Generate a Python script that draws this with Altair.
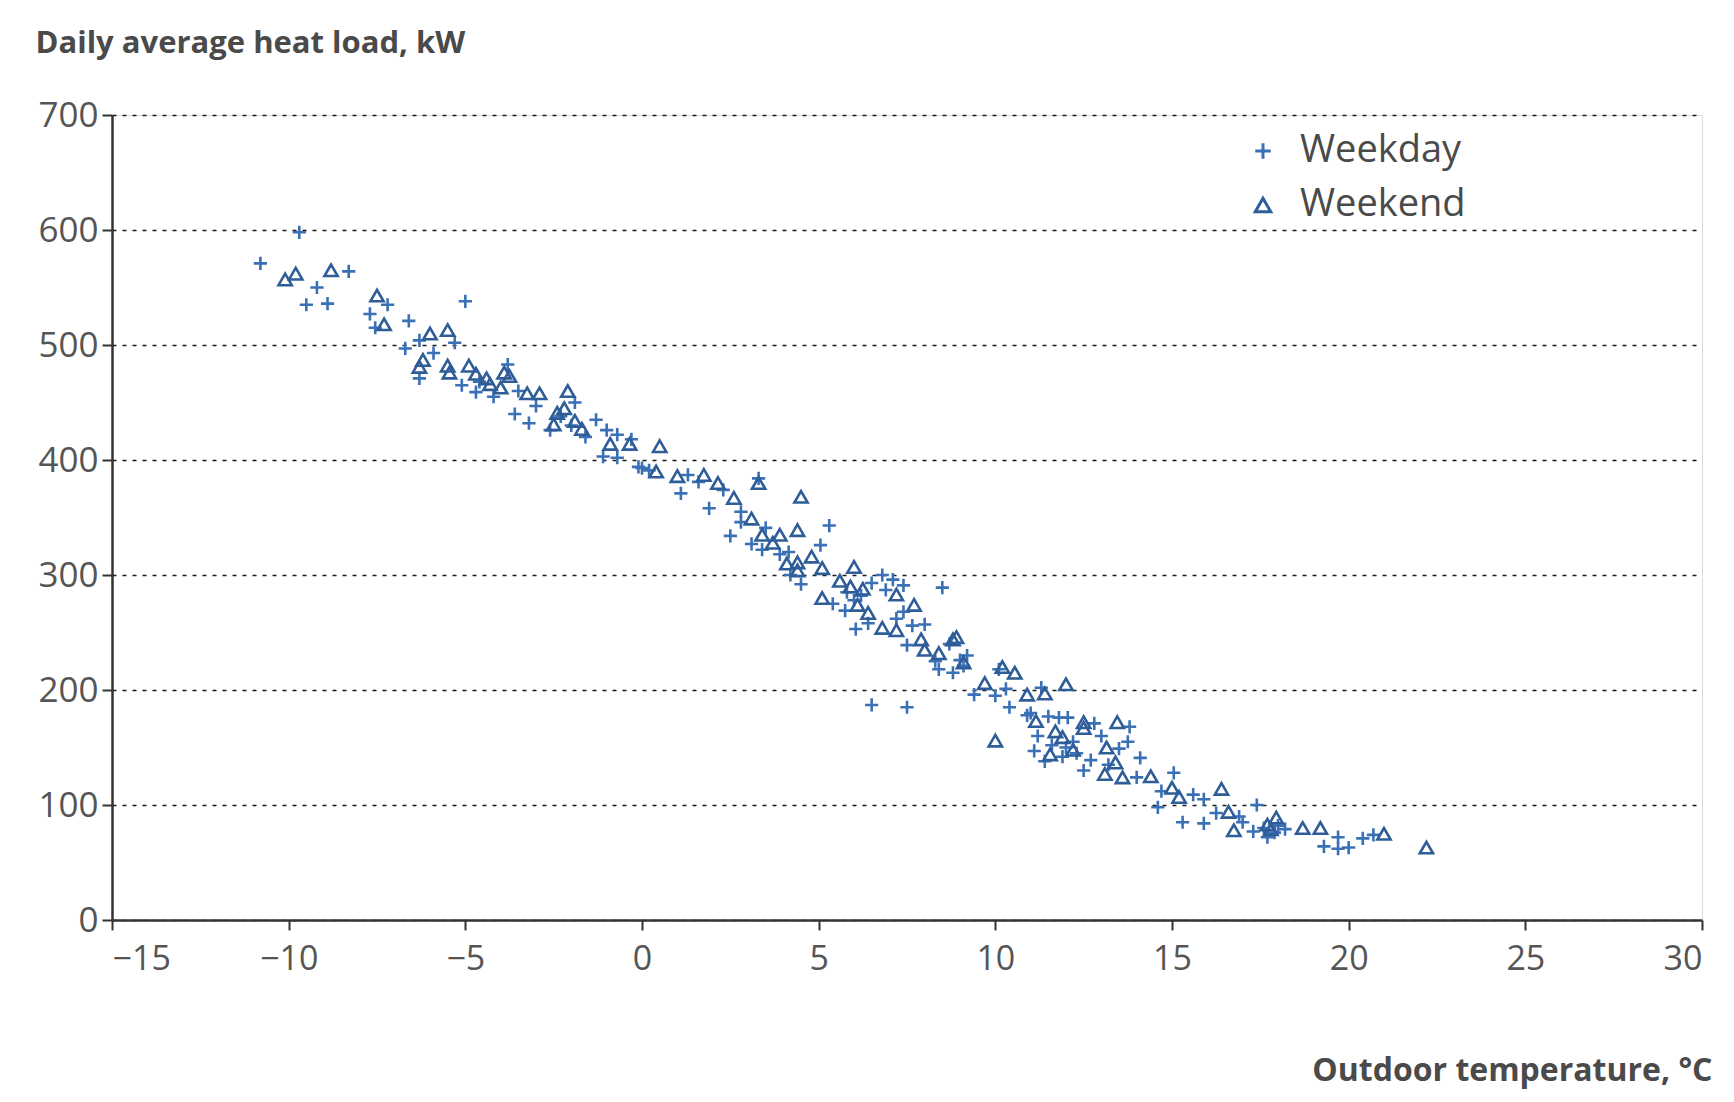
import altair as alt
import pandas as pd

# Weekday (+) observations: outdoor temperature (°C), daily average heat load (kW)
weekday_temp = [-9.7, -10.8, -9.2, -9.5, -8.9, -8.3, -5.0, -7.2, -7.7, -7.55, -6.6, -6.7, -6.3, -5.3,
                -5.9, -6.3, -5.1, -4.7, -4.2, -3.8, -3.5, -1.9, -3.6, -3.2, -2.6, -1.3, -1.0, -0.7,
                -1.1, -0.7, -0.1, -0.3,
                0.0, 0.2, 1.3, 1.1, 1.6, 2.3, 1.9, 2.8, 2.8, 2.5, 3.3, 3.1, 3.4, 3.5, 5.3, 4.15, 5.05, 4.5,
                5.4, 5.75, 6.5, 6.8, 7.1, 7.4, 6.9, 8.5, 7.4, 6.4, 6.05, 7.2, 7.65, 8.0, 7.5, 8.3, 8.4,
                8.8, 9.1, 8.7, 6.5, 7.5, 9.4, 10.1, 10.0, 10.3, 10.4, 11.3, 11.0,
                10.9, 11.5, 11.2, 11.8, 12.05, 11.1, 11.4, 11.9, 12.3, 12.8, 13.0, 13.8, 13.5, 13.75,
                12.7, 14.1, 12.5, 14.0, 15.05, 14.7, 14.6, 15.6, 15.9, 15.3, 15.9, 16.25, 17.0, 17.3,
                17.4, 17.7, 18.2, 19.7, 19.3, 19.7, 20.0, 20.4, 20.7,
                -2.3, -2.0, -1.6, 5.8, 6.0, 6.2, 9.0, 9.2, 12.0, 12.2, 11.6, 17.6, 17.9, 18.0, -4.6,
                -3.0, 3.9, 4.2, 13.2, 16.9]
weekday_load = [598, 571, 550, 535, 536, 564, 538, 535, 527, 515, 521, 497, 504, 502,
                493, 471, 465, 459, 455, 483, 460, 450, 440, 432, 426, 435, 426, 422,
                403, 402, 394, 418,
                393, 391, 387, 371, 381, 374, 358, 355, 346, 334, 384, 327, 322, 341, 343, 320, 326, 292,
                275, 269, 293, 300, 296, 291, 287, 289, 268, 258, 253, 262, 256, 257, 239, 225, 218,
                215, 221, 240, 187, 185, 196, 218, 195, 201, 185, 202, 180,
                178, 177, 160, 176, 176, 147, 138, 142, 145, 171, 160, 168, 149, 155,
                139, 141, 130, 124, 128, 112, 98, 109, 105, 85, 84, 93, 85, 77,
                100, 72, 79, 72, 64, 62, 63, 71, 74,
                438, 430, 420, 285, 278, 282, 226, 230, 150, 155, 152, 80, 76, 82, 468,
                447, 318, 300, 135, 90]

# Weekend (triangle) observations
weekend_temp = [-10.1, -9.8, -8.8, -7.5, -7.3, -6.0, -5.5, -6.2, -6.3, -5.5, -5.45, -4.9, -4.7, -4.4,
                -3.9, -3.75, -4.0, -3.25, -2.9, -2.1, -2.4, -2.5, -1.9, -1.7, -0.9, -0.35,
                0.5, 0.4, 1.0, 1.75, 2.15, 2.6, 3.1, 3.3, 3.4, 3.7, 3.9, 4.4, 4.5, 5.1, 4.4, 4.4, 4.8,
                5.6, 6.0, 5.1, 6.1, 6.25, 7.2, 7.7, 6.4, 6.8, 7.2, 7.9, 8.0, 8.4, 8.8, 8.9, 9.7, 10.2,
                10.55, 10.9, 11.4, 12.0,
                10.0, 11.15, 11.7, 11.9, 11.55, 12.5, 12.5, 13.15, 13.45, 13.4, 13.1, 13.6, 14.4, 15.0,
                15.2, 16.4, 16.6, 16.75, 17.7, 17.95, 18.7, 19.2, 21.0, 22.2,
                -2.2, 5.9, 9.1, 12.2, 17.8, -4.3, 4.1]
weekend_load = [557, 562, 565, 543, 518, 510, 513, 487, 481, 482, 476, 482, 475, 471,
                476, 473, 463, 458, 458, 460, 441, 431, 434, 427, 414, 414,
                412, 390, 386, 387, 380, 367, 349, 380, 335, 328, 335, 339, 368, 306, 311, 304, 316,
                295, 307, 280, 274, 288, 283, 274, 267, 254, 252, 244, 235, 232, 244, 246, 206, 220,
                215, 196, 197, 205,
                156, 173, 164, 159, 144, 172, 167, 150, 172, 137, 127, 124, 125, 115,
                107, 114, 94, 78, 83, 89, 80, 80, 75, 63,
                445, 290, 224, 148, 79, 466, 310]

x_ticks = [-15, -10, -5, 0, 5, 10, 15, 20, 25, 30]
y_ticks = [0, 100, 200, 300, 400, 500, 600, 700]
series = ["Weekday", "Weekend"]

df = pd.concat([
    pd.DataFrame({"temp": weekday_temp, "load": weekday_load, "type": series[0]}),
    pd.DataFrame({"temp": weekend_temp, "load": weekend_load, "type": series[1]}),
], ignore_index=True)

FONT = "Open Sans"

legend = alt.Legend(title=None, orient="none", legendX=1132, legendY=17,
                    symbolSize=240, symbolStrokeWidth=3,
                    labelFontSize=38, labelFont=FONT, labelColor="#4a4a4a",
                    labelLimit=0, rowPadding=16, labelOffset=18)

chart = alt.Chart(df).mark_point(filled=False, strokeWidth=2.6, size=175, opacity=1).encode(
    x=alt.X("temp:Q",
            scale=alt.Scale(domain=[-15, 30], nice=False, zero=False),
            axis=alt.Axis(values=x_ticks, grid=False, title="Outdoor temperature, °C",
                          titleAnchor="end", titleAlign="right", titleX=1600, titleY=150,
                          titleBaseline="middle", titleFontSize=32, titleFont=FONT,
                          titleFontWeight="bold", titleColor="#4a4a4a",
                          labelFontSize=34, labelFont=FONT, labelColor="#555555",
                          labelFontWeight="normal", labelPadding=12,
                          domainColor="#333333", domainWidth=2.5,
                          tickColor="#333333", tickWidth=2, tickSize=10)),
    y=alt.Y("load:Q",
            scale=alt.Scale(domain=[0, 700], nice=False),
            axis=alt.Axis(values=y_ticks, grid=True, gridDash=[4, 6], gridColor="#1a1a1a",
                          gridWidth=1.6, title="Daily average heat load, kW",
                          titleAngle=0, titleAlign="left", titleX=-77, titleY=-72,
                          titleBaseline="middle", titleFontSize=31, titleFont=FONT,
                          titleFontWeight="bold", titleColor="#4a4a4a",
                          labelFontSize=35, labelFont=FONT, labelColor="#555555",
                          labelFontWeight="normal", labelPadding=4,
                          domainColor="#333333", domainWidth=2.5,
                          tickColor="#333333", tickWidth=2, tickSize=10)),
    shape=alt.Shape("type:N",
                    scale=alt.Scale(domain=series, range=["M-1,0L1,0M0,-1L0,1", "triangle-up"]),
                    legend=legend),
    color=alt.Color("type:N",
                    scale=alt.Scale(domain=series, range=["#3a70b5", "#2e5d98"]),
                    legend=legend),
).properties(
    width=1590,
    height=805,
    autosize=alt.AutoSizeParams(type="none"),
    padding={"left": 104, "top": 107, "right": 20, "bottom": 172},
).configure_view(stroke=None).configure(background="white")

chart.save("out.html", embed_options={"renderer": "svg", "actions": False})
